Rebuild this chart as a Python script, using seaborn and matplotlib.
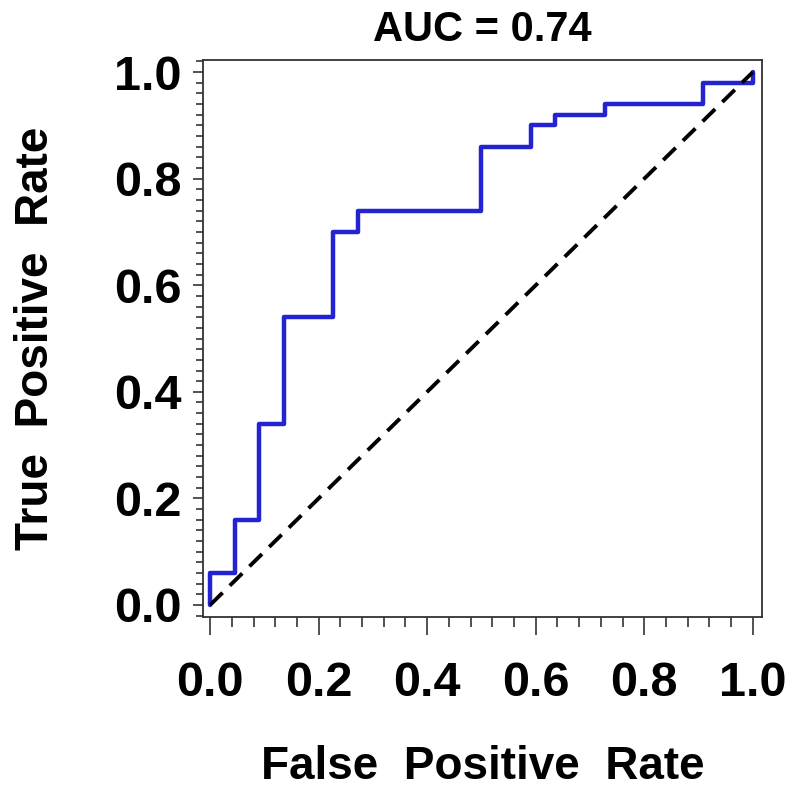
import matplotlib
matplotlib.use('Agg')
from matplotlib import pyplot as plt
from matplotlib.ticker import MultipleLocator
import seaborn as sns
import pandas as pd

# ROC corner points (horizontal step ends at each fpr)
fpr = [0.0, 1/22, 2/22, 3/22, 5/22, 6/22, 11/22, 13/22, 14/22, 16/22, 20/22, 1.0, 1.0]
tpr = [0.0, 0.06, 0.16, 0.34, 0.54, 0.70, 0.74, 0.86, 0.90, 0.92, 0.94, 0.98, 1.0]
chance = [0.0, 1.0]
auc_text = "AUC = 0.74"
xticks = [0.0, 0.2, 0.4, 0.6, 0.8, 1.0]
yticks = [0.0, 0.2, 0.4, 0.6, 0.8, 1.0]

sns.set_style("ticks")
plt.rcParams['font.family'] = ['Liberation Sans', 'DejaVu Sans']
plt.rcParams['font.weight'] = 'bold'
plt.rcParams['text.color'] = 'black'
plt.rcParams['axes.labelcolor'] = 'black'
plt.rcParams['xtick.labelcolor'] = 'black'
plt.rcParams['ytick.labelcolor'] = 'black'

fig = plt.figure(figsize=(7.9, 7.91), dpi=100)
ax = fig.add_axes([0.257, 0.22, 0.7076, 0.704])

roc_df = pd.DataFrame({'fpr': fpr, 'tpr': tpr})
sns.lineplot(data=roc_df, x='fpr', y='tpr', ax=ax, estimator=None, sort=False,
             drawstyle='steps-pre', color='#2323d2', lw=3.2)
ax.plot(chance, chance, color='black', lw=2.8, linestyle=(0, (4.5, 2.6)))

ax.set_xlim(-0.013, 1.017)
ax.set_ylim(-0.0225, 1.0225)
ax.set_xticks(xticks)
ax.set_yticks(yticks)
ax.set_xticklabels([f"{v:.1f}" for v in xticks])
ax.set_yticklabels([f"{v:.1f}" for v in yticks])
ax.xaxis.set_minor_locator(MultipleLocator(0.04))
ax.yaxis.set_minor_locator(MultipleLocator(0.02))

for s in ax.spines.values():
    s.set_color('#333333')
    s.set_linewidth(1.3)

ax.tick_params(axis='x', which='major', direction='out', length=13, width=1.2, color='#333333',
               labelsize=35, pad=19)
ax.tick_params(axis='x', which='minor', direction='out', length=7, width=1.2, color='#333333')
ax.tick_params(axis='y', which='major', direction='out', length=7.5, width=1.2, color='#333333',
               labelsize=35, pad=8)
ax.tick_params(axis='y', which='minor', direction='out', length=5, width=1.2, color='#333333')

ax.set_xlabel("False  Positive  Rate", fontsize=33, fontweight='bold', labelpad=28)
ax.set_ylabel("True  Positive  Rate", fontsize=33, fontweight='bold', labelpad=40)
ax.set_title(auc_text, fontsize=30, fontweight='bold', pad=14)

plt.savefig('out.png', dpi=100)
